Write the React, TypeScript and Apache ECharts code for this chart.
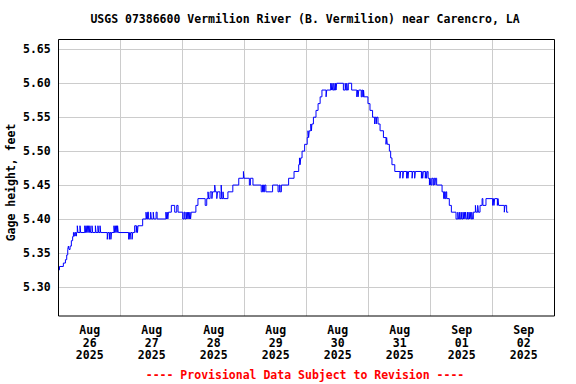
import React, { useEffect, useRef } from 'react';
import * as echarts from 'echarts';

const TITLE = 'USGS 07386600 Vermilion River (B. Vermilion) near Carencro, LA';
const Y_NAME = 'Gage height, feet';
const FOOTER = '---- Provisional Data Subject to Revision ----';

// x axis: hours since Aug 26 2025 00:00; labels sit at noon of each day
const dayLabels = [
  'Aug\n26\n2025', 'Aug\n27\n2025', 'Aug\n28\n2025', 'Aug\n29\n2025',
  'Aug\n30\n2025', 'Aug\n31\n2025', 'Sep\n01\n2025', 'Sep\n02\n2025',
];
const dayLabelHours = [12, 36, 60, 84, 108, 132, 156, 180];
const yTicks = [5.3, 5.35, 5.4, 5.45, 5.5, 5.55, 5.6, 5.65];

// [hours since Aug 26 00:00, gage height ft] — each value holds until the next reading
const readings: [number, number][] = [
  [0, 5.325], [0.3, 5.33], [1.8, 5.335], [2.6, 5.34], [3.1, 5.347], [3.5, 5.355], [3.75, 5.36],
  [4.0, 5.355], [4.4, 5.36], [4.9, 5.368], [5.4, 5.374], [5.7, 5.38], [6.0, 5.375], [6.3, 5.38],
  [6.6, 5.375], [6.9, 5.38], [7.2, 5.39], [7.45, 5.38], [8.25, 5.39], [8.5, 5.38],
  [10.1, 5.39], [10.35, 5.38], [10.6, 5.39], [10.85, 5.38], [11.1, 5.39], [11.35, 5.38],
  [11.6, 5.39], [11.85, 5.38], [12.1, 5.39], [12.35, 5.38], [12.9, 5.39], [13.15, 5.38],
  [14.2, 5.39], [14.45, 5.38], [15.2, 5.39], [15.45, 5.38], [16.0, 5.39], [16.25, 5.38],
  [18.8, 5.37], [19.05, 5.38], [19.6, 5.37], [19.85, 5.38], [20.2, 5.37], [20.45, 5.38],
  [21.4, 5.39], [21.65, 5.38], [21.9, 5.39], [22.15, 5.38], [22.4, 5.39], [22.65, 5.38],
  [22.8, 5.39], [23.05, 5.38], [27.1, 5.37], [27.35, 5.38], [27.6, 5.37], [27.85, 5.38],
  [28.4, 5.37], [28.65, 5.38], [29.4, 5.39], [30.0, 5.38], [30.25, 5.39], [30.5, 5.38],
  [30.7, 5.39], [32.5, 5.4], [33.8, 5.41], [34.05, 5.4], [34.4, 5.41], [34.8, 5.4],
  [35.6, 5.41], [35.85, 5.4], [36.6, 5.41], [36.85, 5.4], [37.7, 5.41], [38.1, 5.4],
  [41.5, 5.41], [41.75, 5.4], [42.0, 5.41], [42.25, 5.4], [42.5, 5.41], [43.6, 5.42],
  [44.9, 5.41], [45.7, 5.42], [46.2, 5.41], [48.0, 5.4], [48.5, 5.41], [48.8, 5.4],
  [49.3, 5.41], [49.55, 5.4], [49.8, 5.41], [50.05, 5.4], [50.3, 5.41], [50.55, 5.4],
  [50.8, 5.41], [51.05, 5.4], [51.3, 5.41], [53.1, 5.42], [53.9, 5.43], [56.7, 5.42],
  [57.3, 5.43], [57.8, 5.44], [58.05, 5.43], [58.6, 5.44], [59.3, 5.43], [59.55, 5.44],
  [60.4, 5.45], [60.65, 5.44], [61.2, 5.43], [61.45, 5.44], [62.4, 5.43], [62.9, 5.45],
  [63.15, 5.43], [63.6, 5.44], [63.85, 5.43], [65.5, 5.44], [67.4, 5.45], [69.7, 5.46],
  [71.5, 5.47], [71.75, 5.46], [73.8, 5.45], [74.2, 5.46], [75.2, 5.45], [78.4, 5.44],
  [78.9, 5.45], [79.3, 5.44], [79.7, 5.45], [80.2, 5.44], [82.8, 5.45], [84.9, 5.44],
  [85.4, 5.45], [85.7, 5.44], [86.2, 5.45], [89.0, 5.46], [91.1, 5.47], [92.9, 5.48],
  [93.2, 5.49], [93.45, 5.48], [93.7, 5.49], [94.2, 5.5], [95.2, 5.51], [96.2, 5.52],
  [96.5, 5.53], [96.75, 5.52], [97.0, 5.53], [97.6, 5.54], [97.85, 5.53], [98.0, 5.54],
  [98.6, 5.55], [99.6, 5.56], [100.4, 5.57], [101.2, 5.58], [101.9, 5.59], [103.5, 5.58],
  [103.75, 5.59], [105.3, 5.6], [105.55, 5.59], [105.8, 5.6], [106.05, 5.59], [106.5, 5.6],
  [106.75, 5.59], [107.1, 5.6], [107.35, 5.59], [107.6, 5.6], [110.2, 5.59], [110.9, 5.6],
  [111.15, 5.59], [111.5, 5.6], [111.75, 5.59], [112.1, 5.6], [113.4, 5.59], [115.4, 5.58],
  [115.65, 5.59], [115.9, 5.58], [116.15, 5.59], [117.1, 5.58], [117.4, 5.59], [117.7, 5.58],
  [118.0, 5.59], [118.2, 5.58], [119.7, 5.57], [120.5, 5.56], [121.5, 5.55], [122.3, 5.54],
  [122.55, 5.55], [122.9, 5.54], [123.15, 5.55], [123.6, 5.54], [124.4, 5.53], [125.7, 5.52],
  [126.7, 5.51], [126.95, 5.52], [127.2, 5.51], [128.0, 5.5], [128.5, 5.49], [129.0, 5.48],
  [130.1, 5.47], [132.1, 5.46], [132.35, 5.47], [133.2, 5.46], [133.45, 5.47], [134.7, 5.46],
  [134.95, 5.47], [135.2, 5.46], [135.45, 5.47], [136.8, 5.46], [137.05, 5.47], [137.8, 5.46],
  [138.05, 5.47], [140.4, 5.46], [140.65, 5.47], [140.9, 5.46], [141.15, 5.47], [141.9, 5.46],
  [142.15, 5.47], [142.4, 5.46], [142.65, 5.47], [143.0, 5.46], [143.5, 5.45], [143.75, 5.46],
  [144.0, 5.45], [144.4, 5.46], [144.9, 5.45], [145.2, 5.46], [145.6, 5.45], [145.85, 5.46],
  [146.3, 5.45], [148.4, 5.44], [149.0, 5.43], [149.3, 5.44], [149.6, 5.43], [149.9, 5.44],
  [150.2, 5.43], [151.2, 5.42], [152.0, 5.41], [153.8, 5.4], [154.5, 5.41], [154.75, 5.4],
  [155.2, 5.41], [155.45, 5.4], [155.8, 5.41], [156.05, 5.4], [156.5, 5.41], [156.75, 5.4],
  [157.0, 5.41], [157.25, 5.4], [157.5, 5.41], [157.75, 5.4], [158.2, 5.41], [158.45, 5.4],
  [158.8, 5.41], [159.05, 5.4], [159.3, 5.41], [159.55, 5.4], [159.9, 5.41], [160.15, 5.4],
  [160.5, 5.41], [161.3, 5.42], [161.55, 5.41], [162.2, 5.42], [162.45, 5.41], [163.1, 5.42],
  [163.9, 5.43], [164.2, 5.42], [165.4, 5.43], [168.0, 5.42], [168.25, 5.43], [168.5, 5.42],
  [168.75, 5.43], [169.8, 5.42], [170.05, 5.43], [170.3, 5.42], [172.5, 5.41], [172.75, 5.42],
  [173.4, 5.41], [174.0, 5.41],
];

const FONT = '"DejaVu Sans Mono", "Liberation Mono", monospace';
const FS = 11.5;

export default function App() {
  const ref = useRef<HTMLDivElement>(null);

  useEffect(() => {
    if (!ref.current) return;
    const chart = echarts.init(ref.current, undefined, { renderer: 'svg' });
    const gridLeft = 58.7;
    const gridTop = 39.5;
    const gridW = 496;
    const gridH = 276.5;
    chart.setOption({
      animation: false,
      backgroundColor: '#ffffff',
      title: [
        {
          text: TITLE,
          left: 305,
          top: 13,
          padding: 0,
          textAlign: 'center',
          textStyle: { fontFamily: FONT, fontSize: FS, fontWeight: 'bold', color: '#000' },
        },
        {
          text: FOOTER,
          left: 305,
          top: 369,
          padding: 0,
          textAlign: 'center',
          textStyle: { fontFamily: FONT, fontSize: FS, fontWeight: 'bold', color: '#ff0000' },
        },
      ],
      grid: { left: gridLeft, top: gridTop, width: gridW, height: gridH, show: false },
      xAxis: {
        type: 'value',
        min: 0,
        max: 192,
        interval: 24,
        axisLine: { show: false },
        axisTick: { show: false },
        splitLine: { show: true, lineStyle: { color: '#cccccc', width: 1 } },
        axisLabel: {
          customValues: dayLabelHours,
          formatter: (v: number) => dayLabels[Math.round((v - 12) / 24)] ?? '',
          fontFamily: FONT,
          fontSize: FS,
          fontWeight: 'bold',
          color: '#000',
          lineHeight: 12.5,
          margin: 8,
        },
      },
      yAxis: {
        type: 'value',
        min: 5.257,
        max: 5.6645,
        splitNumber: 8,
        axisLine: { show: false },
        axisTick: { show: false, customValues: yTicks },
        splitLine: { show: true, lineStyle: { color: '#cccccc', width: 1 } },
        axisLabel: {
          customValues: yTicks,
          formatter: (v: number) => v.toFixed(2),
          fontFamily: FONT,
          fontSize: FS,
          fontWeight: 'bold',
          color: '#000',
          margin: 8,
        },
      },
      series: [
        {
          type: 'line',
          data: readings,
          step: 'end',
          symbol: 'none',
          showSymbol: false,
          lineStyle: { color: '#0000ff', width: 1 },
          z: 3,
        },
      ],
      graphic: [
        {
          type: 'rect',
          silent: true,
          z: 100,
          shape: { x: gridLeft - 0.2, y: gridTop, width: gridW, height: gridH },
          style: { fill: 'none', stroke: '#000', lineWidth: 1 },
        },
        {
          type: 'text',
          silent: true,
          x: 11,
          y: 182.5,
          rotation: Math.PI / 2,
          style: {
            text: Y_NAME,
            fontFamily: FONT,
            fontSize: FS,
            fontWeight: 'bold',
            fill: '#000',
            align: 'center',
            verticalAlign: 'middle',
          },
        },
      ],
    });
    return () => chart.dispose();
  }, []);

  return (
    <div
      ref={ref}
      style={{ position: 'absolute', left: 0, top: 0, width: 576, height: 384, background: '#fff' }}
    />
  );
}
